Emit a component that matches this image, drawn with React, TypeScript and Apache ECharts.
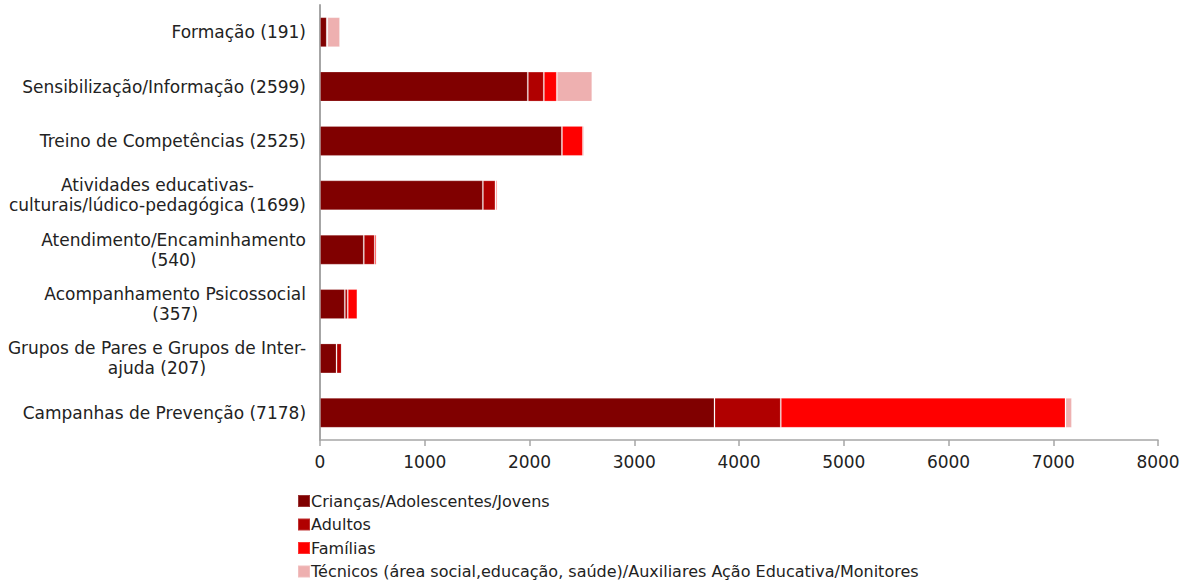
import React, { useEffect, useRef } from "react";
import * as echarts from "echarts";

const categories = [
  "Formação (191)",
  "Sensibilização/Informação (2599)",
  "Treino de Competências (2525)",
  "Atividades educativas-\nculturais/lúdico-pedagógica (1699)",
  "Atendimento/Encaminhamento\n(540)",
  "Acompanhamento Psicossocial\n(357)",
  "Grupos de Pares e Grupos de Inter-\najuda (207)",
  "Campanhas de Prevenção (7178)",
];

const seriesNames = [
  "Crianças/Adolescentes/Jovens",
  "Adultos",
  "Famílias",
  "Técnicos (área social,educação, saúde)/Auxiliares Ação Educativa/Monitores",
];

const criancas = [65, 1984, 2310, 1555, 418, 237, 158, 3766];
const adultos = [5, 153, 0, 120, 105, 28, 49, 633];
const familias = [0, 124, 200, 14, 17, 92, 0, 2718];
const tecnicos = [121, 338, 15, 10, 0, 0, 0, 61];

const colors = ["#800000", "#B00000", "#FF0000", "#EEB0B0"];
const xTicks = { min: 0, max: 8000, interval: 1000 };

const FONT = "DejaVu Sans";
const FS = 17;

export default function App() {
  const ref = useRef<HTMLDivElement>(null);
  useEffect(() => {
    if (!ref.current) return;
    const chart = echarts.init(ref.current, null, { renderer: "svg" });
    const values = [criancas, adultos, familias, tecnicos];
    chart.setOption({
      animation: false,
      textStyle: { fontFamily: FONT },
      grid: { left: 320, right: 27, top: 5, height: 435 },
      legend: {
        orient: "vertical",
        left: 297,
        top: 493,
        height: 100,
        padding: 0,
        itemWidth: 12,
        itemHeight: 12,
        itemGap: 7.5,
        icon: "rect",
        textStyle: {
          fontFamily: FONT,
          fontSize: 16,
          lineHeight: 16,
          color: "#222",
          padding: [0, 0, 0, -4],
        },
        data: seriesNames,
      },
      xAxis: {
        type: "value",
        min: xTicks.min,
        max: xTicks.max,
        interval: xTicks.interval,
        splitLine: { show: false },
        axisLine: { show: true, lineStyle: { color: "#A6A6A6", width: 1.5 } },
        axisTick: { show: true, length: 6, lineStyle: { color: "#A6A6A6", width: 1.5 } },
        axisLabel: {
          fontFamily: FONT,
          fontSize: FS,
          color: "#222",
          margin: 13,
          formatter: (v: number) => String(v),
        },
      },
      yAxis: {
        type: "category",
        inverse: true,
        data: categories,
        axisLine: { show: true, lineStyle: { color: "#A6A6A6", width: 2 } },
        axisTick: { show: false },
        axisLabel: {
          fontFamily: FONT,
          fontSize: FS,
          color: "#222",
          margin: 14,
          lineHeight: 20,
          formatter: (v: string) =>
            v
              .split("\n")
              .map((l) => `{c|${l}}`)
              .join("\n"),
          rich: {
            c: { align: "center", fontFamily: FONT, fontSize: FS, color: "#222", lineHeight: 20 },
          },
        },
      },
      series: seriesNames.map((name, i) => ({
        name,
        type: "bar",
        stack: "total",
        barWidth: 30,
        data: values[i],
        itemStyle: {
          color: colors[i],
          borderColor: "rgba(255,255,255,0.2)",
          borderWidth: 1,
        },
      })),
    });
    return () => chart.dispose();
  }, []);
  return (
    <div
      ref={ref}
      style={{ position: "fixed", left: 0, top: 0, width: 1185, height: 582, background: "#fff" }}
    />
  );
}
